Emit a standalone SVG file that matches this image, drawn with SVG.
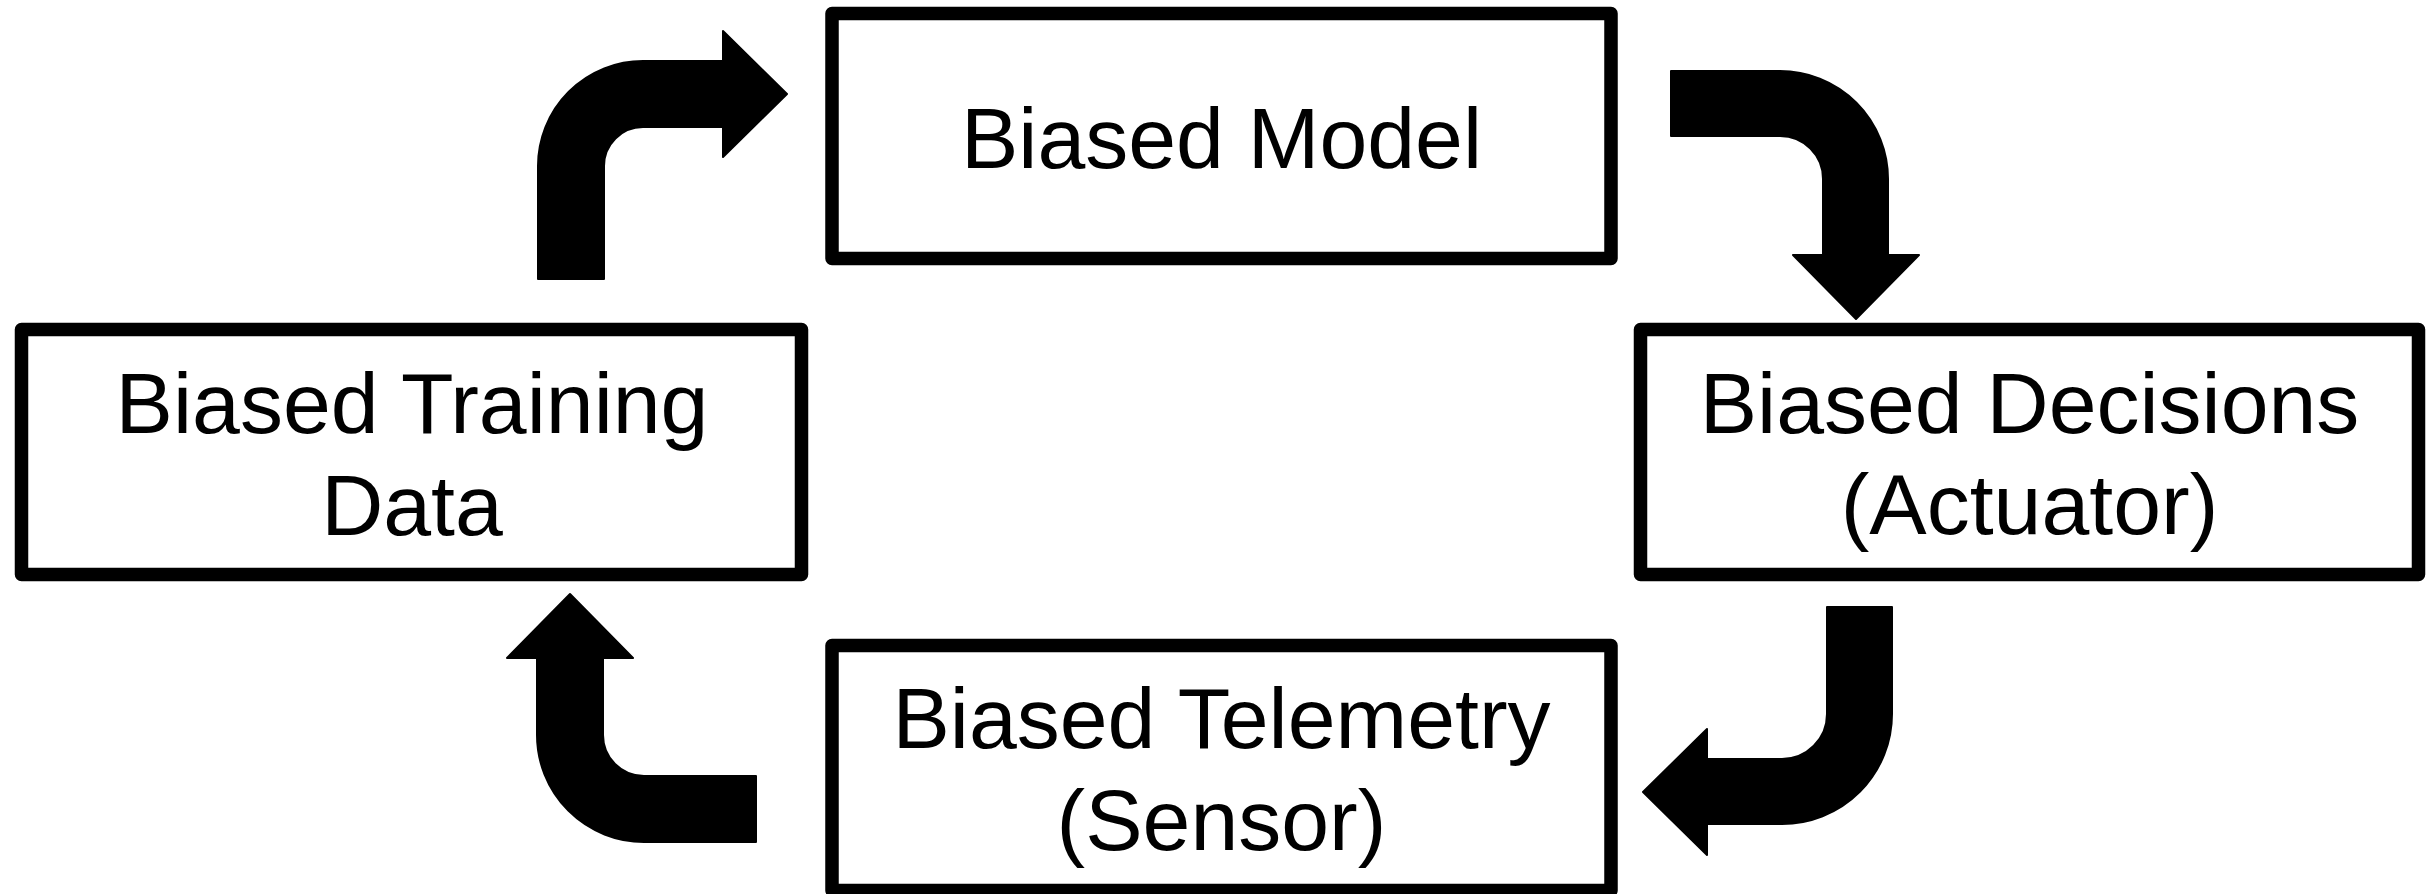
<svg xmlns="http://www.w3.org/2000/svg" width="2426" height="894" viewBox="0 0 2426 894">
<style>
.box{fill:#fff;stroke:#000;stroke-width:13.5;stroke-linejoin:round}
.lbl{font-family:"Liberation Sans",Arial,sans-serif;font-size:86px;fill:#000;text-anchor:middle}
.arr{fill:#000;stroke:#000;stroke-width:2;stroke-linejoin:round}
</style>
<rect width="2426" height="894" fill="#fff"/>
<g id="node-model">
<rect class="box" x="832" y="13.5" width="779" height="245"/>
<text class="lbl" x="1221.5" y="168">Biased Model</text>
</g>
<g id="node-training">
<rect class="box" x="21.5" y="329.5" width="780" height="245"/>
<text class="lbl" x="412" y="433">Biased Training</text>
<text class="lbl" x="412" y="535">Data</text>
</g>
<g id="node-decisions">
<rect class="box" x="1640.5" y="329.5" width="778" height="245"/>
<text class="lbl" x="2029.5" y="433">Biased Decisions</text>
<text class="lbl" x="2029.5" y="534">(Actuator)</text>
</g>
<g id="node-telemetry">
<rect class="box" x="832" y="645.5" width="779" height="245"/>
<text class="lbl" x="1221.5" y="748">Biased Telemetry</text>
<text class="lbl" x="1221.5" y="850">(Sensor)</text>
</g>
<g id="connectors">
<path class="arr" d="M538 279 L538 166 A105 105 0 0 1 643 61 L723 61 L723 31 L787 94 L723 157 L723 127 L643 127 A39 39 0 0 0 604 166 L604 279 Z"/>
<path class="arr" d="M1671 71 L1780 71 A108 108 0 0 1 1888 179 L1888 255 L1919 255 L1856 319 L1793 255 L1823 255 L1823 179 A43 43 0 0 0 1780 136 L1671 136 Z"/>
<path class="arr" d="M1827 607 L1892 607 L1892 714 A110 110 0 0 1 1782 824 L1707 824 L1707 855 L1643 792 L1707 729 L1707 759 L1782 759 A45 45 0 0 0 1827 714 Z"/>
<path class="arr" d="M756 776 L756 842 L644 842 A107 107 0 0 1 537 735 L537 658 L507 658 L570 594 L633 658 L603 658 L603 735 A41 41 0 0 0 644 776 Z"/>
</g>
</svg>
